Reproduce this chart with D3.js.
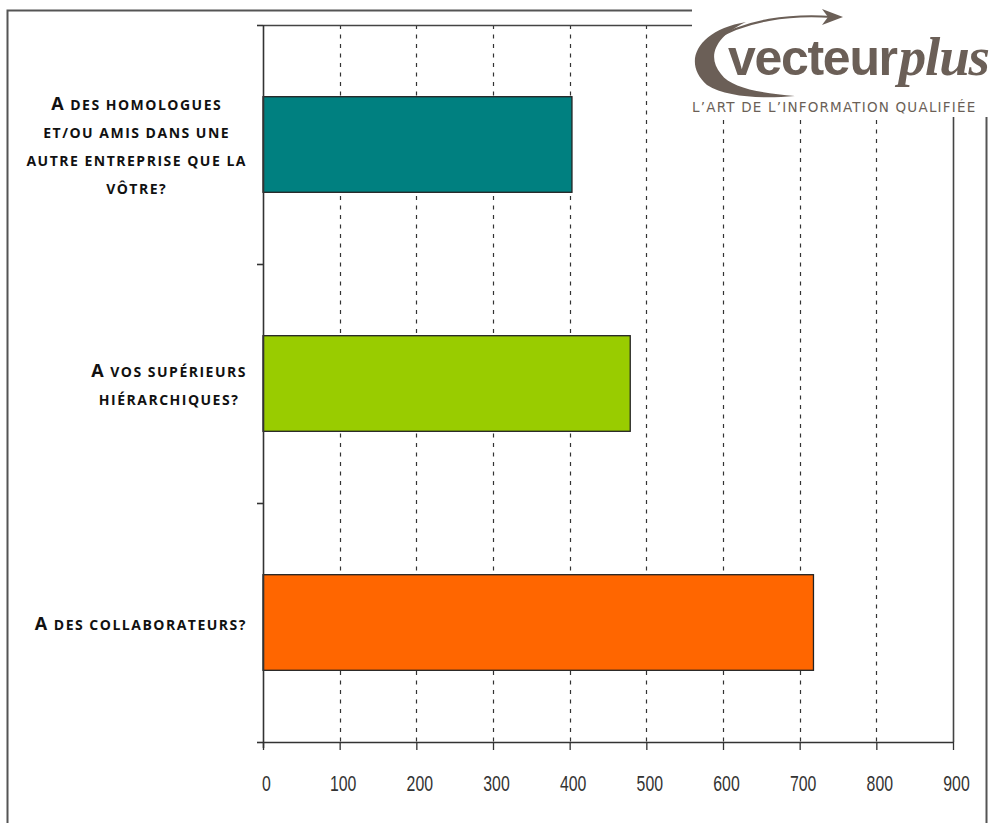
<!DOCTYPE html>
<html>
<head>
<meta charset="utf-8">
<script src="https://cdn.jsdelivr.net/npm/d3@7"></script>
<style>
  html, body { margin: 0; padding: 0; background: #fff; }
  svg { display: block; }
</style>
</head>
<body>
<svg id="chart" width="992" height="823"></svg>
<script>
// Survey answers: one bar per category (top to bottom)
const categories = [
  ["A des homologues", "et/ou amis dans une", "autre entreprise que la", "vôtre?"],
  ["A vos supérieurs", "hiérarchiques?"],
  ["A des collaborateurs?"]
];
const values = [403, 479, 718];
const barColors = ["#008080", "#99cc00", "#ff6600"];
const xTicks = [0, 100, 200, 300, 400, 500, 600, 700, 800, 900];

const svg = d3.select("#chart");
const plot = { left: 263, right: 953, top: 25, bottom: 742 };

const keys = categories.map(c => c.join(" "));
const x = d3.scaleLinear().domain([0, 900]).range([plot.left, plot.right]);
const y = d3.scaleBand().domain(keys).range([plot.top, plot.bottom])
  .paddingInner(0.6).paddingOuter(0.3);

// outer frame
svg.append("rect")
  .attr("x", 7.5).attr("y", 10.5).attr("width", 979).attr("height", 830)
  .attr("fill", "none").attr("stroke", "#555").attr("stroke-width", 2);

// vertical dashed gridlines
svg.append("g").selectAll("line")
  .data(xTicks.filter(t => t > 0 && t < 900))
  .join("line")
  .attr("x1", d => Math.round(x(d)) + 0.5).attr("x2", d => Math.round(x(d)) + 0.5)
  .attr("y1", plot.top).attr("y2", plot.bottom)
  .attr("stroke", "#333").attr("stroke-width", 1.2)
  .attr("stroke-dasharray", "4,5.5");

// plot area top and right borders
svg.append("path")
  .attr("d", `M${plot.left},${plot.top + 0.5}H${plot.right + 0.5}V${plot.bottom}`)
  .attr("fill", "none").attr("stroke", "#444").attr("stroke-width", 1.6);

// bars
svg.append("g").selectAll("rect")
  .data(values)
  .join("rect")
  .attr("x", plot.left)
  .attr("y", (d, i) => y(keys[i]))
  .attr("width", d => x(d) - x(0))
  .attr("height", y.bandwidth())
  .attr("fill", (d, i) => barColors[i])
  .attr("stroke", "#222").attr("stroke-width", 1.3);

// x axis
const xAxis = svg.append("g")
  .attr("transform", `translate(0,${plot.bottom})`)
  .call(d3.axisBottom(x).tickValues(xTicks).tickSize(8).tickSizeOuter(0).tickPadding(0));
xAxis.select(".domain").attr("stroke", "#333").attr("stroke-width", 1.6);
xAxis.selectAll(".tick line").attr("stroke", "#333").attr("stroke-width", 1.3);
// tall, narrow tick numerals
xAxis.selectAll(".tick text")
  .attr("y", 0).attr("dy", 0)
  .attr("transform", "translate(3,49) scale(0.72,1)")
  .attr("font-family", "'Liberation Sans', Arial, sans-serif")
  .attr("font-size", 22).attr("fill", "#333");

// y axis line with category boundary ticks
svg.append("line")
  .attr("x1", plot.left + 0.5).attr("x2", plot.left + 0.5)
  .attr("y1", plot.top).attr("y2", plot.bottom + 6)
  .attr("stroke", "#333").attr("stroke-width", 1.6);
const bounds = d3.range(keys.length + 1).map(i => plot.top + i * y.step());
svg.append("g").selectAll("line")
  .data(bounds)
  .join("line")
  .attr("x1", plot.left - 6).attr("x2", plot.left)
  .attr("y1", d => d + 0.5).attr("y2", d => d + 0.5)
  .attr("stroke", "#333").attr("stroke-width", 1.6);

// category labels in small capitals: lines centred on each other, block right-aligned
const labelRight = 247;
const lineGap = 28;
function smallCaps(textSel, str) {
  // split the string into runs of capitals and runs of other characters
  const runs = str.match(/[A-ZÀ-Þ]+|[^A-ZÀ-Þ]+/g) || [];
  runs.forEach(r => {
    const big = /[A-ZÀ-Þ]/.test(r);
    textSel.append("tspan")
      .attr("font-size", big ? 18 : 14)
      .text(r.toUpperCase());
  });
}
categories.forEach((lines, i) => {
  const cy = y(keys[i]) + y.bandwidth() / 2 + 2;
  const g = svg.append("g");
  const texts = g.selectAll("text").data(lines).join("text")
    .attr("y", (d, j) => cy + (j - (lines.length - 1) / 2) * lineGap + 5)
    .attr("text-anchor", "middle")
    .attr("font-family", "'Open Sans', sans-serif")
    .attr("font-weight", 700)
    .attr("letter-spacing", 1.5)
    .attr("fill", "#111")
    .each(function (d) { smallCaps(d3.select(this), d); });
  let maxW = 0;
  texts.each(function () { maxW = Math.max(maxW, this.getComputedTextLength()); });
  texts.attr("x", labelRight - maxW / 2);
});

// brand mark in the top-right corner
const logo = svg.append("g");
logo.append("rect").attr("x", 692).attr("y", 0).attr("width", 300).attr("height", 117).attr("fill", "#fff");
const brand = "#6b5f57";
// crescent
logo.append("path")
  .attr("d", "M746,22 C698,30 681,62 707,85 C726,97 760,99 795,96 C760,93 731,88 721,74 C706,56 716,36 746,22 Z")
  .attr("fill", brand);
// sweeping arrow
logo.append("path")
  .attr("d", "M714,40 C745,20 790,14 832,17")
  .attr("fill", "none").attr("stroke", brand).attr("stroke-width", 2.2);
logo.append("path")
  .attr("d", "M822,9 L843,17 L822,25 L828,17 Z")
  .attr("fill", brand);
const word = logo.append("text")
  .attr("x", 728).attr("y", 75)
  .attr("fill", brand);
word.append("tspan")
  .attr("font-family", "'Liberation Sans', Arial, sans-serif").attr("font-weight", 700)
  .attr("font-size", 50).attr("letter-spacing", -1.3)
  .text("vecteur");
word.append("tspan")
  .attr("dx", 2)
  .attr("font-family", "'Liberation Serif', serif").attr("font-weight", 700)
  .attr("font-style", "italic").attr("font-size", 55).attr("letter-spacing", -1.2)
  .text("plus");
logo.append("text")
  .attr("x", 692).attr("y", 112)
  .attr("font-family", "'DejaVu Sans', sans-serif").attr("font-size", 13.5)
  .attr("letter-spacing", 1.2)
  .attr("fill", brand)
  .text("L’ART DE L’INFORMATION QUALIFIÉE");
</script>
</body>
</html>
